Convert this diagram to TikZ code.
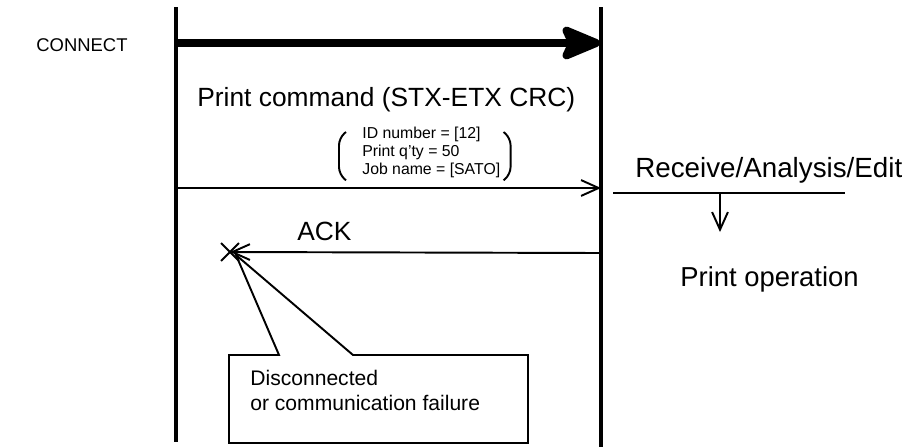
\documentclass[tikz,border=0pt]{standalone}
\usepackage{fontspec}
\setmainfont{Liberation Sans}
\usetikzlibrary{arrows.meta, positioning, calc, shapes.misc}

\begin{document}
\begin{tikzpicture}[x=0.02cm, y=-0.02cm,
  lifeline/.style={line width=2pt},
  bigarrow/.style={line width=4.6pt, -{Stealth[length=27pt, width=22pt, inset=5pt, round]}},
  msg/.style={line width=1.1pt, -{Straight Barb[length=10pt, width=9pt]}},
  bigtext/.style={font=\fontsize{15}{18}\selectfont, inner sep=0, anchor=base west},
  smalltext/.style={font=\fontsize{9}{10.2}\selectfont, inner sep=0, align=left, anchor=north west},
  notetext/.style={font=\fontsize{12}{14.2}\selectfont, inner sep=0, align=left, anchor=north west},
  brk/.style={line width=1.1pt, rounded corners=4pt}
]
  \useasboundingbox (0,0) rectangle (908,447);

  % lifelines
  \coordinate (hostT) at (176,7);
  \coordinate (hostB) at (176,442);
  \coordinate (prnT) at (601,7);
  \coordinate (prnB) at (601,447);
  \draw[lifeline] (hostT) -- (hostB);
  \draw[lifeline] (prnT) -- (prnB);

  % CONNECT
  \node[bigtext, font=\fontsize{10.5}{12}\selectfont] (connect) at (36,51) {CONNECT};
  \coordinate (conL) at (176,43);
  \coordinate (conR) at (600,43);
  \draw[bigarrow] (conL) -- (conR);

  % print command
  \node[bigtext] (cmd) at (197,106) {Print command (STX-ETX CRC)};
  \node[smalltext] (params) at (362,127) {ID number = [12]\\Print q’ty = 50\\Job name = [SATO]};
  \draw[brk] ($(params.north west)+(-16,5)$) -- ($(params.north west)+(-23,11)$)
    -- ($(params.south west)+(-23,-4)$) -- ($(params.south west)+(-16,2)$);
  \draw[brk] ($(params.north east)+(3,5)$) -- ($(params.north east)+(10,11)$)
    -- ($(params.south east)+(10,-4)$) -- ($(params.south east)+(3,2)$);
  \coordinate (cmdL) at (176,188);
  \coordinate (cmdR) at (601,188);
  \draw[msg] (cmdL) -- (cmdR);

  % printer side
  \node[bigtext, font=\fontsize{15.8}{18}\selectfont] (recv) at (635,177) {Receive/Analysis/Edit};
  \coordinate (recvL) at (613,193);
  \coordinate (recvR) at (845,193);
  \draw[line width=1.1pt] (recvL) -- (recvR);
  \node[bigtext, font=\fontsize{15.6}{18}\selectfont] (oper) at (680,286) {Print operation};
  \coordinate (recvM) at (720,193);
  \coordinate (operT) at (720,232);
  \draw[msg] (recvM) -- (operT);

  % ACK
  \node[bigtext] (ack) at (297,240) {ACK};
  \node[cross out, draw, line width=1.1pt, minimum size=0.32cm, inner sep=0] (fail) at (230,252) {};
  \coordinate (ackR) at (601,253);
  \draw[msg] (ackR) -- (fail.center);

  % failure note
  \node[notetext] (note) at (250,370) {Disconnected\\or communication failure};
  \coordinate (boxNW) at (229,355);
  \coordinate (boxSE) at (528,443);
  \draw[line width=1.1pt] (boxNW) -- ++(50,0) -- ($(fail.center)+(6,3)$) -- ($(boxNW)+(124,0)$)
    -- (boxNW -| boxSE) -- (boxSE) -- (boxSE -| boxNW) -- cycle;
\end{tikzpicture}
\end{document}
